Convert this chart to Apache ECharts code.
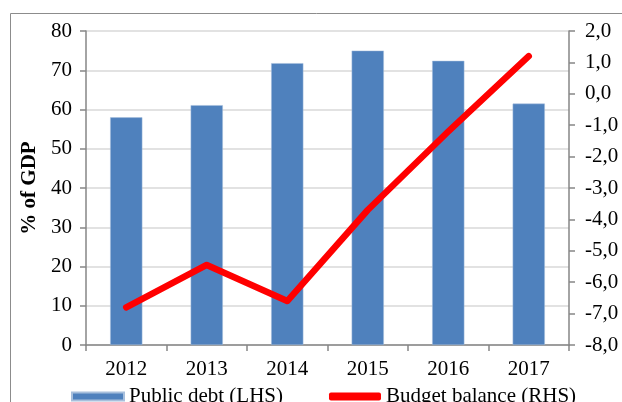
<!DOCTYPE html>
<html>
<head>
<meta charset="utf-8">
<script src="https://cdn.jsdelivr.net/npm/echarts@6/dist/echarts.min.js"></script>
<style>
    html, body { margin: 0; padding: 0; background: #fff; }
    #main { width: 622px; height: 402px; }
</style>
</head>
<body>
<div id="main"></div>
<script>
var years = ['2012', '2013', '2014', '2015', '2016', '2017'];
var publicDebt = [58.0, 61.1, 71.8, 75.0, 72.4, 61.5];
var budgetBalance = [-6.8, -5.45, -6.6, -3.7, -1.2, 1.2];

var font = '"Liberation Serif", "Times New Roman", serif';

var myChart = echarts.init(document.getElementById('main'));
myChart.setOption({
    animation: false,
    textStyle: { fontFamily: font },
    graphic: [
        {
            type: 'rect',
            shape: { x: 10.5, y: 13.5, width: 640, height: 420 },
            style: { fill: 'none', stroke: '#8c8c8c', lineWidth: 1 },
            silent: true
        }
    ],
    grid: { left: 86, right: 53, top: 31, bottom: 57 },
    legend: {
        left: 66,
        top: 381,
        itemWidth: 52,
        itemHeight: 8,
        itemGap: 46,
        textStyle: { fontFamily: font, fontSize: 21, color: '#000' },
        data: [
            { name: 'Public debt (LHS)', icon: 'rect' },
            { name: 'Budget balance (RHS)', icon: 'roundRect', itemStyle: { color: '#ff0000' } }
        ]
    },
    xAxis: {
        type: 'category',
        data: years,
        axisLine: { lineStyle: { color: '#868686', width: 1.5 } },
        axisTick: { show: true, length: 6, lineStyle: { color: '#868686', width: 1.5 } },
        axisLabel: { color: '#000', fontSize: 21, margin: 14, fontFamily: font }
    },
    yAxis: [
        {
            type: 'value',
            min: 0,
            max: 80,
            interval: 10,
            name: '% of GDP',
            nameLocation: 'middle',
            nameGap: 45,
            nameRotate: 90,
            nameTextStyle: { fontFamily: font, fontSize: 21, fontWeight: 'bold', color: '#000' },
            axisLine: { show: true, lineStyle: { color: '#868686', width: 1.5 } },
            axisTick: { show: true, length: 6, lineStyle: { color: '#868686', width: 1.5 } },
            axisLabel: { color: '#000', fontSize: 21, margin: 14, fontFamily: font },
            splitLine: { lineStyle: { color: '#d9d9d9', width: 1.5 } }
        },
        {
            type: 'value',
            min: -8,
            max: 2,
            interval: 1,
            position: 'right',
            axisLine: { show: true, lineStyle: { color: '#868686', width: 1.5 } },
            axisTick: { show: true, length: 6, lineStyle: { color: '#868686', width: 1.5 } },
            axisLabel: {
                color: '#000',
                fontSize: 21,
                margin: 16,
                fontFamily: font,
                formatter: function (v) { return v.toFixed(1).replace('.', ','); }
            },
            splitLine: { show: false }
        }
    ],
    series: [
        {
            name: 'Public debt (LHS)',
            type: 'bar',
            yAxisIndex: 0,
            barWidth: '40%',
            itemStyle: { color: '#4f81bd', borderColor: '#a7bfdc', borderWidth: 0.5 },
            data: publicDebt
        },
        {
            name: 'Budget balance (RHS)',
            type: 'line',
            yAxisIndex: 1,
            symbol: 'none',
            lineStyle: { color: '#ff0000', width: 6.5, cap: 'round', join: 'round' },
            itemStyle: { color: '#ff0000' },
            data: budgetBalance
        }
    ]
});
</script>
</body>
</html>
